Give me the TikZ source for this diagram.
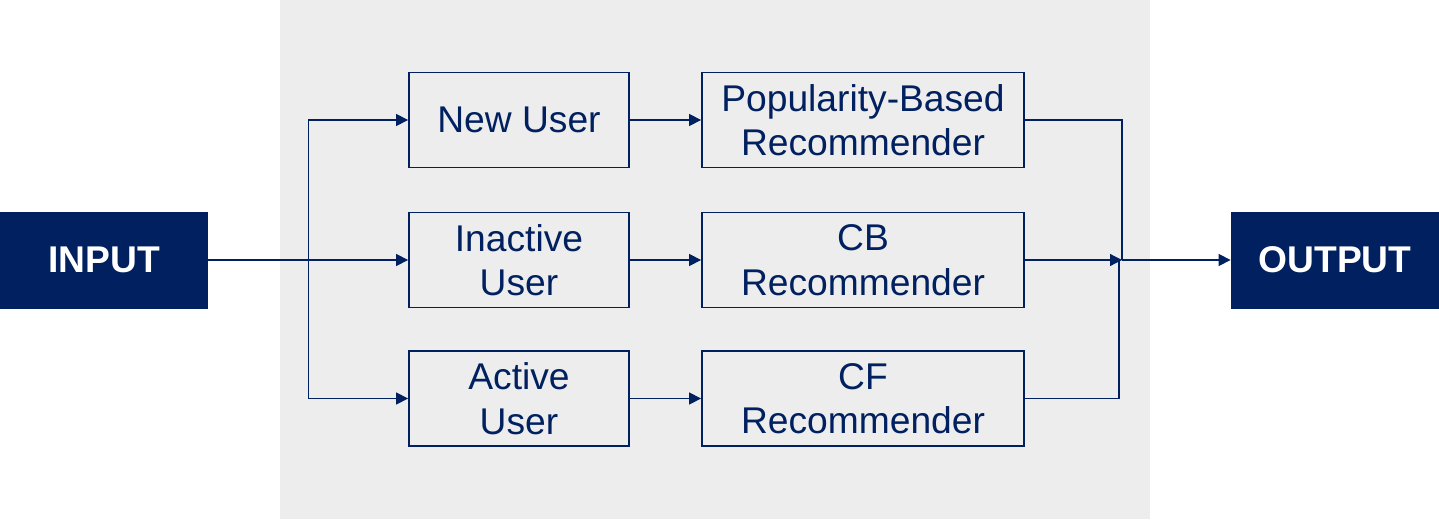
\documentclass[tikz,border=0pt]{standalone}
\usepackage{fontspec}
\setmainfont{Liberation Sans}
\usetikzlibrary{arrows.meta}
\definecolor{navy}{HTML}{002060}
\definecolor{bggray}{HTML}{EDEDED}
\tikzset{
  box/.style={draw=navy, line width=0.9pt, fill=bggray, text=navy, align=center,
    minimum height=47.5pt, inner sep=0pt, font=\fontsize{18.6}{22.2}\selectfont},
  userbox/.style={box, minimum width=110pt},
  recbox/.style={box, minimum width=161pt},
  iobox/.style={fill=navy, text=white, minimum width=104pt, minimum height=48.5pt,
    inner sep=0pt, font=\fontsize{18.6}{22.2}\selectfont\bfseries},
  conn/.style={draw=navy, line width=0.6pt},
  arr/.style={conn, -{Triangle[length=6pt,width=6pt]}}
}
\begin{document}
\begin{tikzpicture}[x=0.5pt,y=-0.5pt]
\useasboundingbox (0,0) rectangle (1439,519);
\fill[bggray] (280,0) rectangle (1150,519);

\node[iobox] (in) at (104,260) {INPUT};
\node[iobox] (out) at (1335,260) {OUTPUT};

\node[userbox] (nu) at (519,120) {New User};
\node[userbox] (iu) at (519,260) {Inactive\\User};
\node[userbox] (au) at (519,398.5) {Active\\User};

\node[recbox] (pr) at (863,120) {Popularity-Based\\Recommender};
\node[recbox] (cb) at (863,260) {CB\\Recommender};
\node[recbox] (cf) at (863,398.5) {CF\\Recommender};

\coordinate (split) at (308.5,260);
\coordinate (join) at (1122,260);

\draw[conn] (in.east) -- (split);
\draw[arr] (split) |- (nu.west);
\draw[arr] (split) -- (iu.west);
\draw[arr] (split) |- (au.west);

\draw[arr] (nu) -- (pr);
\draw[arr] (iu) -- (cb);
\draw[arr] (au) -- (cf);

\draw[conn] (pr.east) -| (join);
\draw[conn] (cf.east) -| (1119,260);
\draw[arr] (cb.east) -- (join);
\draw[arr] (join) -- (out.west);
\end{tikzpicture}
\end{document}
